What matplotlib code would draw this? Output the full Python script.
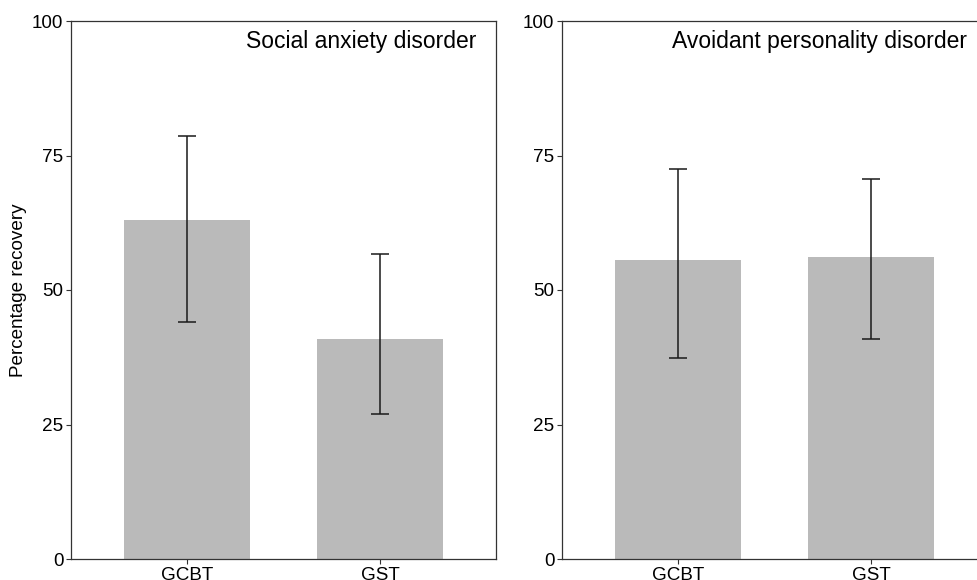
import numpy as np
import matplotlib.pyplot as plt

plt.rcParams['font.family'] = ['Liberation Sans', 'DejaVu Sans']

groups = ['GCBT', 'GST']
titles = ['Social anxiety disorder', 'Avoidant personality disorder']
means = [[63.0, 40.9], [55.6, 56.1]]
lower = [[44.1, 27.0], [37.3, 40.9]]
upper = [[78.6, 56.6], [72.4, 70.6]]
yticks = [0, 25, 50, 75, 100]

fig = plt.figure(figsize=(9.77, 5.8), dpi=100)
W, H = 977, 580
lefts = [71, 562]
for i in range(2):
    ax = fig.add_axes([lefts[i] / W, 21 / H, 425 / W, 538 / H])
    x = np.arange(1, 3)
    m = np.array(means[i])
    err = [m - np.array(lower[i]), np.array(upper[i]) - m]
    ax.bar(x, m, width=0.65, color='#bababa', zorder=1)
    ax.errorbar(x, m, yerr=err, fmt='none', ecolor='#1a1a1a', elinewidth=1.1,
                capsize=6.8, capthick=1.1, zorder=2)
    ax.set_xlim(0.4, 2.6)
    ax.set_ylim(0, 100)
    ax.set_xticks(x)
    ax.set_xticklabels(groups)
    ax.set_yticks(yticks)
    ax.tick_params(labelsize=13.6, length=3.5, width=0.8, color='#333333',
                   labelcolor='black', pad=2)
    for s in ax.spines.values():
        s.set_color('#333333')
        s.set_linewidth(0.9)
    ax.text(1 - 20 / 425, 1 - 27 / 538, titles[i], transform=ax.transAxes,
            ha='right', va='baseline', fontsize=16.5)

fig.text(19 / W, 1 - 290 / H, 'Percentage recovery', rotation=90,
         ha='center', va='center', fontsize=13.6)

fig.savefig('out.png', dpi=100)
